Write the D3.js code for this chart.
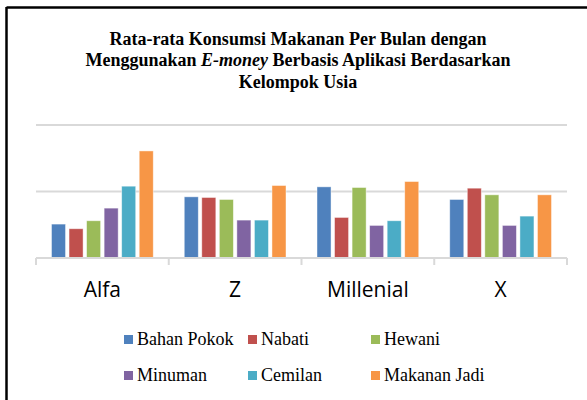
<!DOCTYPE html>
<html>
<head>
<meta charset="utf-8">
<script src="https://cdn.jsdelivr.net/npm/d3@7"></script>
<style>
  body { margin: 0; background: #fff; }
  svg { display: block; }
  .serif { font-family: 'Liberation Serif', 'Times New Roman', Times, 'DejaVu Serif', serif; }
</style>
</head>
<body>
<svg width="587" height="400"></svg>
<script>
// chart data (unit = one gridline step)
const groups = ['Alfa', 'Z', 'Millenial', 'X'];
const series = ['Bahan Pokok', 'Nabati', 'Hewani', 'Minuman', 'Cemilan', 'Makanan Jadi'];
const colors = ['#4f81bd', '#c0504d', '#9bbb59', '#8064a2', '#4bacc6', '#f79646'];
const bahanPokok  = [0.51, 0.92, 1.07, 0.88];
const nabati      = [0.44, 0.91, 0.61, 1.05];
const hewani      = [0.56, 0.88, 1.06, 0.95];
const minuman     = [0.75, 0.57, 0.49, 0.49];
const cemilan     = [1.08, 0.57, 0.56, 0.63];
const makananJadi = [1.61, 1.09, 1.15, 0.95];
const yTicks = [0, 1, 2];

const values = [bahanPokok, nabati, hewani, minuman, cemilan, makananJadi];

const svg = d3.select('svg');

// frame (only top and left edge show in the crop)
svg.append('line').attr('x1', 6.5).attr('x2', 587).attr('y1', 7.5).attr('y2', 7.5)
   .attr('stroke', '#000').attr('stroke-width', 2.5);
svg.append('line').attr('x1', 6.5).attr('x2', 6.5).attr('y1', 7).attr('y2', 400)
   .attr('stroke', '#000').attr('stroke-width', 2.5);

// title
const title = svg.append('text').attr('class', 'serif').attr('text-anchor', 'middle')
   .attr('font-weight', 'bold').attr('font-size', 18).attr('fill', '#000');
title.append('tspan').attr('x', 298).attr('y', 45).text('Rata-rata Konsumsi Makanan Per Bulan dengan');
const l2 = title.append('tspan').attr('x', 298).attr('y', 66);
l2.append('tspan').text('Menggunakan ');
l2.append('tspan').attr('font-style', 'italic').text('E-money');
l2.append('tspan').text(' Berbasis Aplikasi Berdasarkan');
title.append('tspan').attr('x', 298).attr('y', 88).text('Kelompok Usia');

// scales
const x0 = d3.scaleBand().domain(groups).range([36, 567]);
const x1 = d3.scaleBand().domain(series).range([15.5, x0.bandwidth() - 15.5]).paddingInner(0.2);
const y = d3.scaleLinear().domain([0, 2]).range([258, 125]);

// gridlines
svg.append('g').selectAll('line').data(yTicks.slice(1)).join('line')
   .attr('x1', 36).attr('x2', 567)
   .attr('y1', d => y(d)).attr('y2', d => y(d))
   .attr('stroke', '#d9d9d9').attr('stroke-width', 2);

// bars
const g = svg.append('g').selectAll('g').data(groups).join('g')
   .attr('transform', d => `translate(${x0(d)},0)`);
g.selectAll('rect').data((d, i) => series.map((s, j) => ({s, j, v: values[j][i]}))).join('rect')
   .attr('x', d => x1(d.s)).attr('width', x1.bandwidth())
   .attr('y', d => y(d.v)).attr('height', d => y(0) - y(d.v))
   .attr('fill', d => colors[d.j])
   .attr('stroke', '#fff').attr('stroke-opacity', 0.55).attr('stroke-width', 0.8);

// x axis
const xAxis = svg.append('g').attr('transform', `translate(0,${y(0)})`)
   .call(d3.axisBottom(x0).tickSize(0).tickPadding(25));
xAxis.select('.domain').attr('stroke', '#d9d9d9').attr('stroke-width', 2).attr('d', 'M36,0H567');
xAxis.selectAll('text').attr('font-family', 'Open Sans, Calibri, sans-serif')
   .attr('font-size', 21).attr('fill', '#000').attr('dy', 0).attr('y', 39);
xAxis.append('g').selectAll('line').data(groups.map(d => x0(d)).concat([567])).join('line')
   .attr('x1', d => d).attr('x2', d => d).attr('y1', 0).attr('y2', 7)
   .attr('stroke', '#d9d9d9').attr('stroke-width', 2);

// legend
const legX = [124, 248, 371];
const legY = [345, 381];
const leg = svg.append('g').selectAll('g').data(series).join('g')
   .attr('transform', (d, i) => `translate(${legX[i % 3]},${legY[Math.floor(i / 3)]})`);
leg.append('rect').attr('x', 0).attr('y', -10).attr('width', 9).attr('height', 9)
   .attr('fill', (d, i) => colors[i]);
leg.append('text').attr('class', 'serif').attr('x', 13).attr('y', 0)
   .attr('font-size', 18).attr('fill', '#000').text(d => d);
</script>
</body>
</html>
